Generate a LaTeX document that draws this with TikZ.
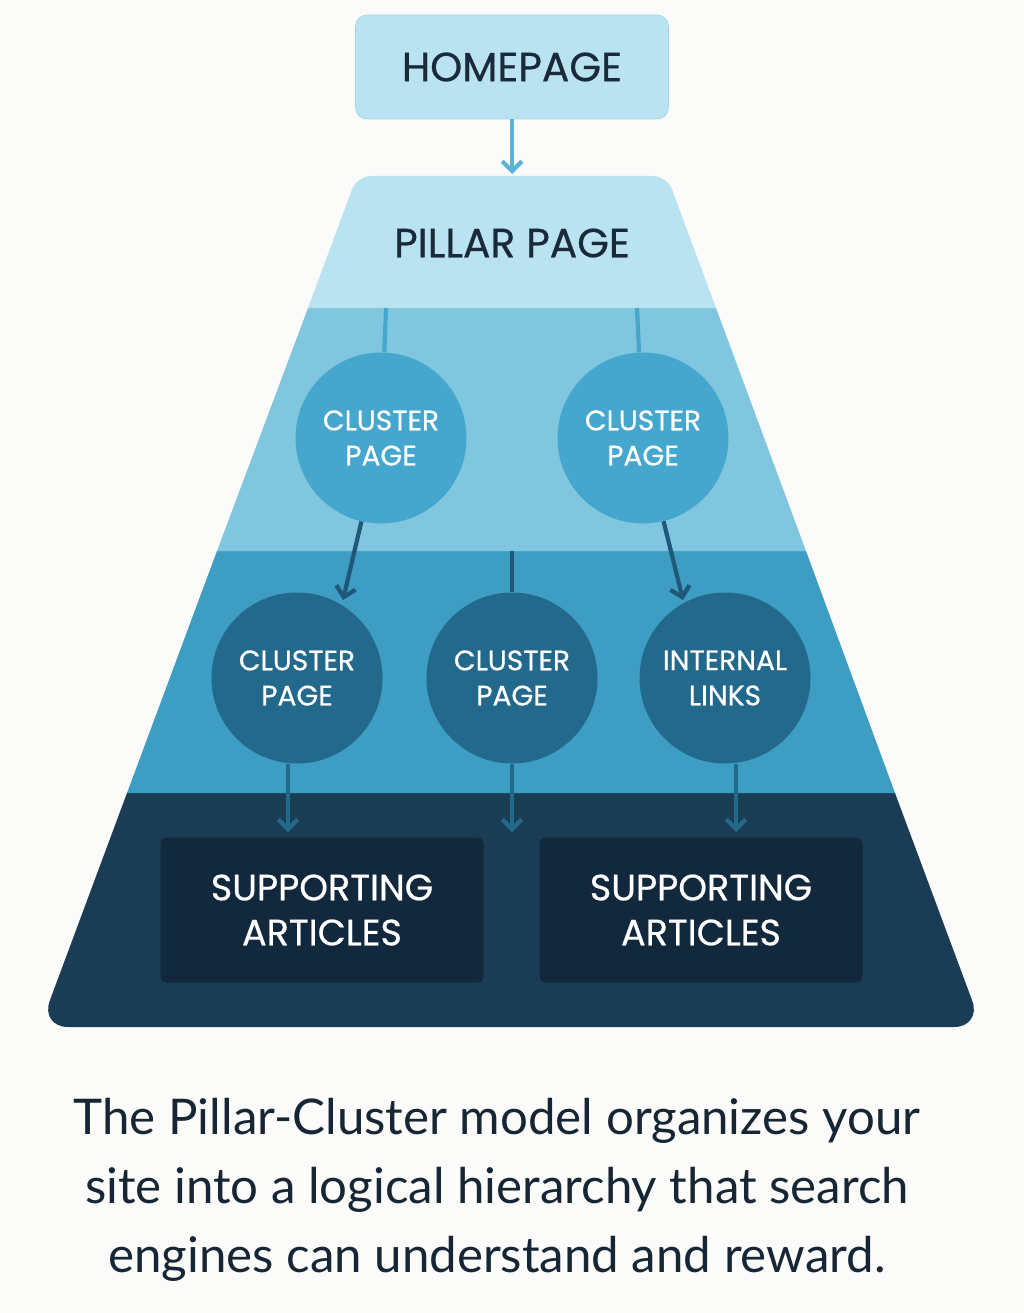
\documentclass[tikz,border=0pt]{standalone}
\usepackage{fontspec}
\setmainfont{Poppins}[FakeBold=0.6]
\newfontfamily\capfont{Lato}
\usetikzlibrary{arrows.meta}
\definecolor{bgc}{HTML}{FBFBF9}
\definecolor{bandA}{HTML}{B9E3F1}
\definecolor{bandB}{HTML}{80C6DF}
\definecolor{bandC}{HTML}{3D9DC3}
\definecolor{bandD}{HTML}{1B3C55}
\definecolor{circA}{HTML}{45A7CD}
\definecolor{circB}{HTML}{23698B}
\definecolor{boxD}{HTML}{12283C}
\definecolor{inkD}{HTML}{1A2A3A}
\definecolor{arrA}{HTML}{5AB4D6}
\definecolor{arrB}{HTML}{1F5878}
\tikzset{
  cpage/.style={circle, minimum size=171*0.025cm, inner sep=0pt, font=\fontsize{20}{25}\selectfont, text=white, align=center},
  sbox/.style={fill=boxD, rounded corners=4pt, minimum width=323*0.025cm, minimum height=145*0.025cm, inner sep=0pt, font=\fontsize{26}{32}\selectfont, text=white, align=center},
  link/.style={line width=3pt, -{Straight Barb[length=7pt,width=14pt]}},
}
\begin{document}
\begin{tikzpicture}[x=0.025cm, y=-0.025cm]
\fill[bgc] (0,0) rectangle (1024,1313);
% pyramid bands
\fill[bandD] (127,793) [rounded corners=20pt] -- (40,1027) -- (982,1027) [sharp corners] -- (895,793) -- cycle;
\fill[bandC] (217,551) -- (127,793) -- (895,793) -- (806,551) -- cycle;
\fill[bandB] (308,308) -- (217,551) -- (806,551) -- (716,308) -- cycle;
\fill[bandA] (308,308) [rounded corners=10pt] -- (357,176) -- (667,176) [sharp corners] -- (716,308) -- cycle;
% top
\node[fill=bandA, draw=bandA!80!circA, rounded corners=8pt, minimum width=313*0.025cm, minimum height=104*0.025cm, font=\fontsize{29}{33}\selectfont, text=inkD] (home) at (512,67) {HOMEPAGE};
\node[font=\fontsize{29}{33}\selectfont, text=inkD] (pillar) at (512,243) {PILLAR PAGE};
\coordinate (pl) at (386,308);
\coordinate (pr) at (637,308);
\coordinate (pm) at (512,551);
\coordinate (ptop) at (512,174);
\draw[arrA, link] (home) -- (ptop);
% clusters
\node[cpage, fill=circA] (c1) at (381,438) {CLUSTER\\PAGE};
\node[cpage, fill=circA] (c2) at (643,438) {CLUSTER\\PAGE};
\node[cpage, fill=circB] (c3) at (297,678) {CLUSTER\\PAGE};
\node[cpage, fill=circB] (c4) at (512,678) {CLUSTER\\PAGE};
\node[cpage, fill=circB] (c5) at (725,678) {INTERNAL\\LINKS};
\coordinate (a1) at (343,600);
\coordinate (a2) at (683,600);
\draw[circA, line width=3pt] (pl) -- (c1);
\draw[circA, line width=3pt] (pr) -- (c2);
\draw[arrB, line width=3pt] (pm) -- (c4);
\draw[arrB, link] (c1) -- (a1);
\draw[arrB, link] (c2) -- (a2);
% bottom
\node[sbox] (s1) at (322,910) {SUPPORTING\\ARTICLES};
\node[sbox] (s2) at (701,910) {SUPPORTING\\ARTICLES};
\coordinate (b1) at (288,832);
\coordinate (b2) at (512,832);
\coordinate (b3) at (736,832);
\draw[circB, link] (c3.south -| b1) -- (b1);
\draw[circB, link] (c4) -- (b2);
\draw[circB, link] (c5.south -| b3) -- (b3);
% caption
\node[font=\capfont\fontsize{35}{49}\selectfont, text=inkD!90!black, align=center] (cap) at (497,1190)
  {The Pillar-Cluster model organizes your\\site into a logical hierarchy that search\\engines can understand and reward.};
\end{tikzpicture}
\end{document}
